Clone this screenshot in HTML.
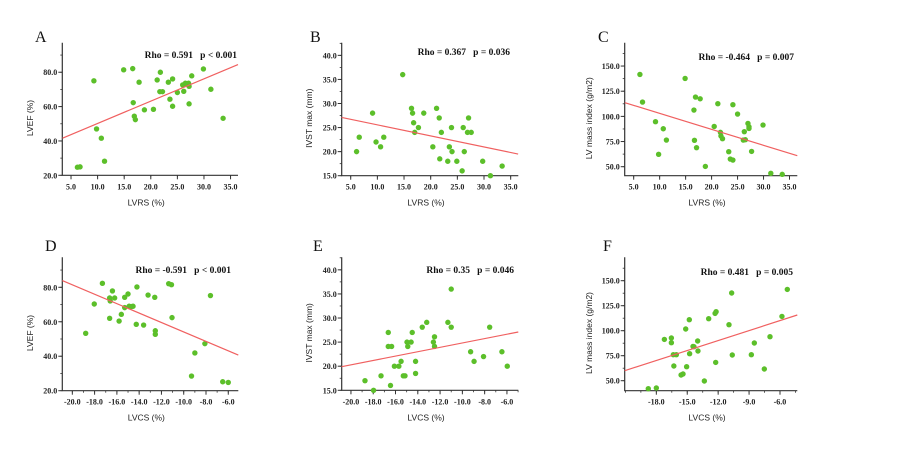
<!DOCTYPE html>
<html><head><meta charset="utf-8">
<style>
html,body{margin:0;padding:0;background:#fff;}
svg{display:block;}
.tk{font-family:"Liberation Serif",serif;font-size:8px;font-weight:bold;fill:#222;}
.al{font-family:"Liberation Sans",sans-serif;font-size:8.5px;fill:#222;}
.rho{font-family:"Liberation Serif",serif;font-size:9.5px;font-weight:bold;fill:#111;white-space:pre;}
.lt{font-family:"Liberation Serif",serif;font-size:16px;fill:#111;}
</style></head>
<body>
<svg id="chart" width="905" height="457" viewBox="0 0 905 457"></svg>
<script>
const ax = [3.36, 3.31, 3.27, -20.9, -20.83, -21.07];
// Panel A: LVRS vs LVEF
const aX = [6.2,6.7,9.3,9.8,10.7,11.3,14.9,16.6,16.7,16.9,17.1,17.8,18.8,20.5,21.2,21.8,21.7,22.2,23.3,23.6,24.1,24.1,25,26,26.2,26.5,26.9,27.1,27.2,27.2,27.7,29.9,31.3,33.6];
const aY = [24.7,24.9,75,47,41.6,28.2,81.4,82.1,62.3,54.4,52.4,74.2,58.1,58.4,75.5,80,68.7,68.7,74.2,64.3,76.1,60.2,68.2,72.6,68.9,73.6,73,73.6,71.8,61.6,77.9,81.9,70.1,53.2];
// Panel B: LVRS vs IVST max
const bX = [6.1,6.6,9.1,9.75,10.6,11.2,14.75,16.4,16.6,16.8,17,17.7,18.7,20.4,21.1,21.6,21.7,22,23.2,23.5,23.9,24,24.9,25.9,26.1,26.3,26.9,27.1,27.6,29.75,31.2,33.4];
const bY = [20,23,28,22,21,23,36,29,28,26,24,25,28,21,29,27,18.5,24,18,21,25,20,18,16,25,20,24,27,24,18,15,17];
// Panel C: LVRS vs LV mass index
const cX = [6.2,6.7,9.2,9.8,10.7,11.3,14.9,16.6,16.7,16.9,17.1,17.8,18.8,20.5,21.2,21.7,21.8,22.1,23.3,23.6,24.1,24.1,25,26.1,26.3,26.5,27,27.2,27.2,27.7,29.9,31.4,33.6];
const cY = [141.7,114.2,94.7,62.3,87.7,76.5,137.7,106.3,76.2,119.2,68.9,117.5,50.3,90,112.6,84.1,80.5,77.8,64.9,57.6,56.6,111.6,102.3,76.5,84.8,76.8,93,89.7,88,65.2,91.4,43.4,42.4];
// Panel D: LVCS vs LVEF
const dX = [-18.8,-18.03,-17.3,-16.65,-16.65,-16.6,-16.4,-16.2,-15.8,-15.6,-15.3,-15.3,-15,-14.9,-14.7,-14.55,-14.26,-14.2,-13.6,-13.2,-12.6,-12.55,-12.55,-11.35,-11.1,-11.05,-9.3,-9,-8.1,-7.6,-6.5,-6.0];
const dY = [53.3,70.3,82.3,62,73.8,72.1,77.9,73.8,60.4,64.3,74.2,68.2,76.1,69,68.8,69,58.5,80.2,58.1,75.5,74.2,54.8,52.7,82.1,81.5,62.4,28.5,41.9,47.3,75.2,25.2,24.8];
// Panel E: LVCS vs IVST max
const eX = [-18.74,-17.97,-17.3,-16.65,-16.65,-16.35,-16.45,-16.1,-15.7,-15.5,-15.3,-15.15,-14.97,-14.9,-14.6,-14.5,-14.2,-14.2,-13.6,-13.2,-12.6,-12.5,-12.5,-11.3,-11,-11,-9.26,-8.95,-8.1,-7.55,-6.45,-5.97];
const eY = [17,15,18,27,24.1,24.1,16,20,20,21,18,18,25,24.1,25,27,21,18.5,28.1,29.1,25,24.1,26.1,29.1,36,28.1,23,21,22,28.1,23,20];
// Panel F: LVCS vs LV mass index
const fX = [-18.78,-18,-17.22,-16.54,-16.54,-16.35,-16.3,-16.06,-15.6,-15.41,-15.15,-15.06,-14.8,-14.77,-14.44,-14.35,-13.99,-13.96,-13.34,-12.92,-12.3,-12.2,-12.24,-10.95,-10.69,-10.63,-8.78,-8.49,-7.52,-6.97,-5.81,-5.29];
const fY = [42,42.7,91.3,92.7,88,76,64.7,76,55.7,56.7,101.7,64,111,77,84.3,84,89.7,79.7,49.7,112,117.3,119,68.3,106,137.7,75.7,76,87.7,61.7,94,114.3,141.3];
// Regression fit endpoints [x0,y0,x1,y1]
const fitA = [3.4,41.6,36.4,84.5];
const fitB = [3.3,27.1,36.4,19.5];
const fitC = [3.3,113.6,36.5,60.9];
const fitD = [-20.9,83.9,-5.1,40.7];
const fitE = [-20.84,19.9,-4.98,27.1];
const fitF = [-21.07,60,-4.32,115.7];
// Tick values
const xTicksLVRS = [5,10,15,20,25,30,35];
const xTicksLVCS = [-20,-18,-16,-14,-12,-10,-8,-6];
const xTicksF = [-18,-15,-12,-9,-6];
const yTicksLVEF = [20,40,60,80];
const yTicksIVST = [15,20,25,30,35,40];
const yTicksMass = [50,75,100,125,150];
const rhoTexts = ["Rho = 0.591   p < 0.001","Rho = 0.367   p = 0.036","Rho = -0.464   p = 0.007","Rho = -0.591   p < 0.001","Rho = 0.35   p = 0.046","Rho = 0.481   p = 0.005"];

const NS="http://www.w3.org/2000/svg";
const svg=document.getElementById('chart');
function mk(tag,attrs,parent){const e=document.createElementNS(NS,tag);for(const k in attrs)e.setAttribute(k,attrs[k]);(parent||svg).appendChild(e);return e;}

const panels=[
 {id:'a',letter:'A',lx:35,ly:42,L:62.3,R:238,T:42.7,B:175.3,xd:[3.36,36.4],yd:[20,97.2],X:aX,Y:aY,fit:fitA,xt:xTicksLVRS,yt:yTicksLVEF,xs:5,ys:10,xl:'LVRS (%)',yl:'LVEF (%)',ylx:33,rx:237,ry:58},
 {id:'b',letter:'B',lx:310,ly:42,L:341.7,R:518.3,T:42.7,B:175.7,xd:[3.31,36.43],yd:[15,42.63],X:bX,Y:bY,fit:fitB,xt:xTicksLVRS,yt:yTicksIVST,xs:5,ys:2.5,xl:'LVRS (%)',yl:'IVST max (mm)',ylx:312,rx:510,ry:55},
 {id:'c',letter:'C',lx:598,ly:42,L:624.7,R:797.3,T:42.7,B:175.7,xd:[3.27,36.5],yd:[41.06,173.2],X:cX,Y:cY,fit:fitC,xt:xTicksLVRS,yt:yTicksMass,xs:5,ys:12.5,xl:'LVRS (%)',yl:'LV mass index (g/m2)',ylx:592,rx:794,ry:60},
 {id:'d',letter:'D',lx:45,ly:251,L:62.3,R:238.3,T:257.3,B:390.7,xd:[-20.9,-5.1],yd:[20,97.4],X:dX,Y:dY,fit:fitD,xt:xTicksLVCS,yt:yTicksLVEF,xs:1,ys:10,xl:'LVCS (%)',yl:'LVEF (%)',ylx:33,rx:231,ry:273},
 {id:'e',letter:'E',lx:313,ly:251,L:341.7,R:518.3,T:257.3,B:390.3,xd:[-20.83,-4.98],yd:[15,42.6],X:eX,Y:eY,fit:fitE,xt:xTicksLVCS,yt:yTicksIVST,xs:1,ys:2.5,xl:'LVCS (%)',yl:'IVST max (mm)',ylx:312,rx:514,ry:273},
 {id:'f',letter:'F',lx:603,ly:251,L:624.7,R:797.3,T:257.3,B:390.7,xd:[-21.07,-4.32],yd:[40,173.4],X:fX,Y:fY,fit:fitF,xt:xTicksF,yt:yTicksMass,xs:1.5,ys:12.5,xl:'LVCS (%)',yl:'LV mass index (g/m2)',ylx:592,rx:793,ry:275}
];

panels.forEach(p=>{
 const g=mk('g',{});
 
 
 const sx=v=>p.L+(v-p.xd[0])/(p.xd[1]-p.xd[0])*(p.R-p.L);
 const sy=v=>p.B-(v-p.yd[0])/(p.yd[1]-p.yd[0])*(p.B-p.T);
 const lt=mk('text',{x:p.lx,y:p.ly,class:'lt'},g);lt.textContent=p.letter;
 
 
 const axes=mk('path',{d:`M${p.L},${p.T}V${p.B}H${p.R}`,stroke:'#333','stroke-width':1.2,fill:'none'},g);
 
 
 // minor y ticks
 for(let v=p.yt[0]-p.ys*4;v<=p.yd[1];v+=p.ys){ if(v<p.yd[0])continue; const y=sy(v); mk('line',{x1:p.L-2,x2:p.L,y1:y,y2:y,stroke:'#333','stroke-width':0.8},g);}
 for(let v=p.xt[0]-p.xs*4;v<=p.xd[1];v+=p.xs){ if(v<p.xd[0])continue; const x=sx(v); mk('line',{x1:x,x2:x,y1:p.B,y2:p.B+2,stroke:'#333','stroke-width':0.8},g);}
 p.yt.forEach(v=>{const y=sy(v);
  mk('line',{x1:p.L-4,x2:p.L,y1:y,y2:y,stroke:'#333','stroke-width':1},g);
  const t=mk('text',{x:p.L-5,y:y+3,'text-anchor':'end',class:'tk'},g);t.textContent=v.toFixed(1);
  
  });
 p.xt.forEach(v=>{const x=sx(v);
  mk('line',{x1:x,x2:x,y1:p.B,y2:p.B+4,stroke:'#333','stroke-width':1},g);
  const t=mk('text',{x:x,y:p.B+14,'text-anchor':'middle',class:'tk'},g);t.textContent=v.toFixed(1);
  
  });
 const xl=mk('text',{x:(p.L+p.R)/2-4,y:p.B+30,'text-anchor':'middle',class:'al'},g);xl.textContent=p.xl;
 
 
 const cy=(p.T+p.B)/2+9;
 const yl=mk('text',{x:p.ylx,y:cy,'text-anchor':'middle',class:'al',transform:`rotate(-90 ${p.ylx} ${cy})`},g);yl.textContent=p.yl;
 
 
 p.X.forEach((xv,i)=>{const c=mk('circle',{cx:sx(xv),cy:sy(p.Y[i]),r:2.7,fill:'#5cbf2a'},g);
  
  });
 const f=p.fit;
 const ln=mk('line',{x1:sx(f[0]),y1:sy(f[1]),x2:sx(f[2]),y2:sy(f[3]),stroke:'#f06060','stroke-width':1.2},g);
 
 
 const i=panels.indexOf(p);
 const r=mk('text',{x:p.rx,y:p.ry,'text-anchor':'end',class:'rho'},g);r.textContent=rhoTexts[i];
 
 
});
</script>
</body></html>
